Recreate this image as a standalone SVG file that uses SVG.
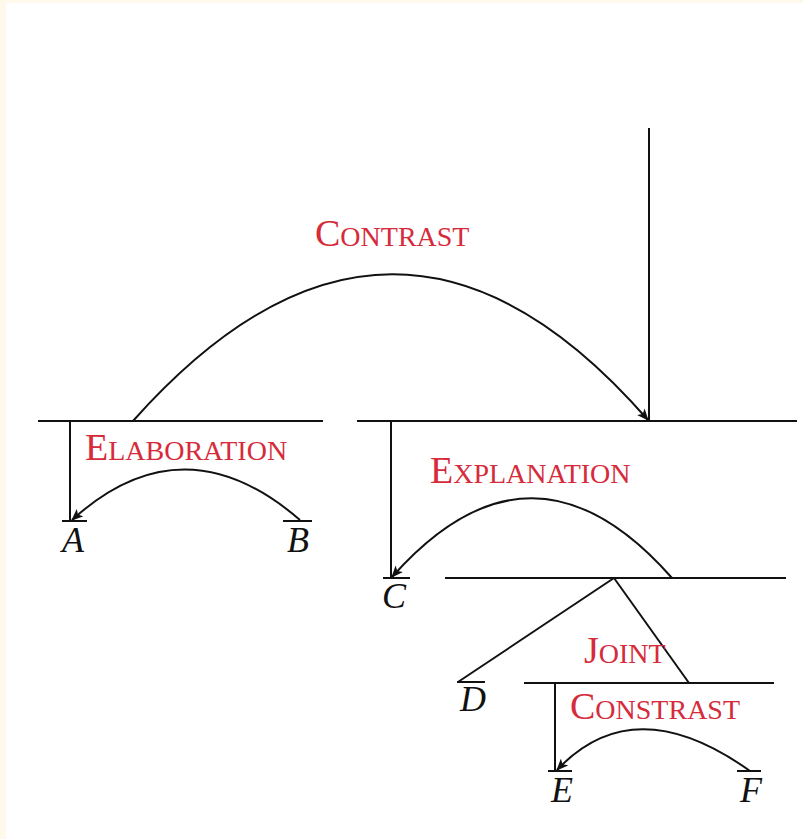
<svg xmlns="http://www.w3.org/2000/svg" width="803" height="839" viewBox="0 0 803 839">
  <defs>
    <style>
      .ln { stroke: #111; stroke-width: 2; fill: none; }
      .arc { stroke: #111; stroke-width: 2; fill: none; marker-end: url(#ah); }
      .rel { font-family: "Liberation Serif", "Times New Roman", serif; fill: #d62b3b; font-size: 28px; }
      .rel .cap { font-size: 38px; }
      .leaf { font-family: "Liberation Serif", "Times New Roman", serif; font-style: italic; font-size: 36px; fill: #111; text-anchor: middle; }
    </style>
    <marker id="ah" viewBox="0 0 12 10" refX="11" refY="5" markerWidth="12" markerHeight="10" markerUnits="userSpaceOnUse" orient="auto">
      <path d="M0,0 L12,5 L0,10 L3,5 Z" fill="#111"/>
    </marker>
  </defs>
  <rect x="0" y="0" width="803" height="839" fill="#fff9ec"/>
  <rect x="6" y="3" width="797" height="836" fill="#ffffff"/>

  <g id="connectors">
    <!-- spans -->
    <line class="ln" x1="38" y1="421" x2="323" y2="421"/>
    <line class="ln" x1="357" y1="421" x2="797" y2="421"/>
    <line class="ln" x1="649" y1="128" x2="649" y2="421"/>
    <line class="ln" x1="445" y1="578" x2="786" y2="578"/>
    <line class="ln" x1="524" y1="683" x2="774" y2="683"/>
    <!-- nucleus verticals -->
    <line class="ln" x1="70" y1="421" x2="70" y2="521"/>
    <line class="ln" x1="391" y1="421" x2="391" y2="578"/>
    <line class="ln" x1="555" y1="683" x2="555" y2="771"/>
    <!-- joint -->
    <line class="ln" x1="614" y1="578" x2="458" y2="682"/>
    <line class="ln" x1="614" y1="578" x2="689" y2="683"/>
    <!-- leaf ticks -->
    <line class="ln" x1="62" y1="521" x2="87" y2="521"/>
    <line class="ln" x1="283" y1="521" x2="312" y2="521"/>
    <line class="ln" x1="383" y1="578" x2="410" y2="578"/>
    <line class="ln" x1="457" y1="682" x2="485" y2="682"/>
    <line class="ln" x1="548" y1="771" x2="572" y2="771"/>
    <line class="ln" x1="737" y1="771" x2="761" y2="771"/>
    <!-- relation arcs -->
    <path class="arc" d="M133,421 Q394,128 648,420"/>
    <path class="arc" d="M300,520 Q183,419 72,520"/>
    <path class="arc" d="M672,578 Q532,419 392,577"/>
    <path class="arc" d="M750,771 Q634,688 557,770"/>
  </g>

  <g id="rel-contrast"><text class="rel" x="315" y="246"><tspan class="cap">C</tspan>ONTRAST</text></g>
  <g id="rel-elaboration"><text class="rel" x="85" y="460"><tspan class="cap">E</tspan>LABORATION</text></g>
  <g id="rel-explanation"><text class="rel" x="430" y="483"><tspan class="cap">E</tspan>XPLANATION</text></g>
  <g id="rel-joint"><text class="rel" x="584" y="663"><tspan class="cap">J</tspan>OINT</text></g>
  <g id="rel-constrast"><text class="rel" x="570" y="719"><tspan class="cap">C</tspan>ONSTRAST</text></g>

  <g id="leaf-A"><text class="leaf" x="73" y="552">A</text></g>
  <g id="leaf-B"><text class="leaf" x="298" y="552">B</text></g>
  <g id="leaf-C"><text class="leaf" x="394" y="608">C</text></g>
  <g id="leaf-D"><text class="leaf" x="473" y="711">D</text></g>
  <g id="leaf-E"><text class="leaf" x="562" y="802">E</text></g>
  <g id="leaf-F"><text class="leaf" x="751" y="802">F</text></g>
</svg>
